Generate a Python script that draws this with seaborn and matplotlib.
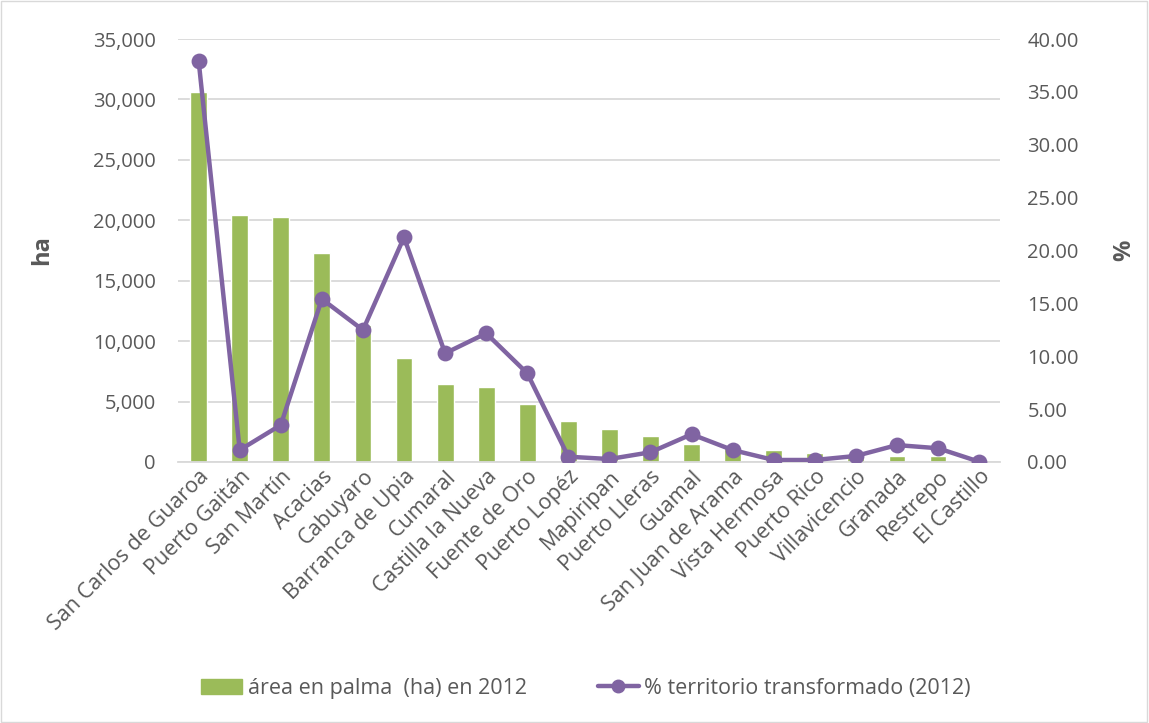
import matplotlib
matplotlib.use("Agg")
import matplotlib.pyplot as plt
import seaborn as sns
import numpy as np
import pandas as pd
from matplotlib.patches import Rectangle
from matplotlib.lines import Line2D
from matplotlib.patches import Patch
from matplotlib.ticker import FuncFormatter, MultipleLocator

municipios = ["San Carlos de Guaroa", "Puerto Gaitán", "San Martín", "Acacias", "Cabuyaro",
              "Barranca de Upia", "Cumaral", "Castilla la Nueva", "Fuente de Oro", "Puerto Lopéz",
              "Mapiripan", "Puerto Lleras", "Guamal", "San Juan de Arama", "Vista Hermosa",
              "Puerto Rico", "Villavicencio", "Granada", "Restrepo", "El Castillo"]
area_ha = [30600, 20430, 20290, 17260, 11330, 8630, 6420, 6230, 4800, 3390,
           2700, 2180, 1490, 1270, 970, 780, 550, 500, 470, 40]
pct_transformado = [37.95, 1.13, 3.5, 15.41, 12.48, 21.25, 10.28, 12.17, 8.39, 0.5,
                    0.28, 0.92, 2.62, 1.13, 0.19, 0.19, 0.57, 1.6, 1.3, 0.03]

green = "#9BBB59"
purple = "#8064A2"
grid_c = "#D9D9D9"
txt_c = "#595959"

sns.set_theme(style="white")
plt.rcParams['font.family'] = ['Open Sans', 'DejaVu Sans']

df = pd.DataFrame({"m": municipios, "ha": area_ha, "pct": pct_transformado})

fig = plt.figure(figsize=(11.49, 7.23), dpi=100)
ax = fig.add_axes([0.155, 0.361, 0.715, 0.585])
sns.barplot(data=df, x="m", y="ha", color=green, width=0.41, ax=ax, saturation=1)
ax.set_ylim(0, 35000)
ax.yaxis.set_major_locator(MultipleLocator(5000))
ax.yaxis.set_major_formatter(FuncFormatter(lambda v, p: f"{int(v):,}"))
ax.grid(axis="y", color=grid_c, linewidth=1.3)
ax.set_axisbelow(True)
for s in ["top", "right", "left"]:
    ax.spines[s].set_visible(False)
ax.spines["bottom"].set_color(grid_c)
ax.spines["bottom"].set_linewidth(1.3)
ax.set_xlabel("")
ax.set_ylabel("ha", fontsize=17, fontweight="bold", color=txt_c, labelpad=28)
ax.tick_params(axis="y", labelsize=14.5, colors=txt_c, length=0, pad=16)
ax.tick_params(axis="x", labelsize=15.5, colors=txt_c, length=0, pad=3)
plt.setp(ax.get_xticklabels(), rotation=45, ha="right", rotation_mode="anchor")

ax2 = ax.twinx()
sns.pointplot(data=df, x="m", y="pct", color=purple, markers="o", markersize=9,
              linewidth=3.2, ax=ax2)
ax2.set_ylim(0, 40)
ax2.yaxis.set_major_locator(MultipleLocator(5))
ax2.yaxis.set_major_formatter(FuncFormatter(lambda v, p: f"{v:.2f}"))
for s in ["top", "right", "left", "bottom"]:
    ax2.spines[s].set_visible(False)
ax2.set_ylabel("%", fontsize=17, fontweight="bold", color=txt_c, labelpad=24)
ax2.tick_params(axis="y", labelsize=14.5, colors=txt_c, length=0, pad=20)
ax2.set_xlabel("")
ax2.grid(False)
ax.set_xlim(-0.5, len(municipios) - 0.5)
ax2.set_xlim(-0.5, len(municipios) - 0.5)

handles = [Patch(facecolor=green, edgecolor=green),
           Line2D([0], [0], color=purple, lw=3.2, marker="o", markersize=9)]
labels = ["área en palma  (ha) en 2012", "% territorio transformado (2012)"]
fig.legend(handles, labels, loc="center", bbox_to_anchor=(0.51, 0.048), ncol=2,
           frameon=False, fontsize=15.5, labelcolor=txt_c, columnspacing=3.3,
           handlelength=1.9, handletextpad=0.25)

fig.patches.append(Rectangle((0.001, 0.001), 0.997, 0.997, transform=fig.transFigure,
                             fill=False, edgecolor=grid_c, linewidth=1))

fig.savefig("out.png", dpi=100)
